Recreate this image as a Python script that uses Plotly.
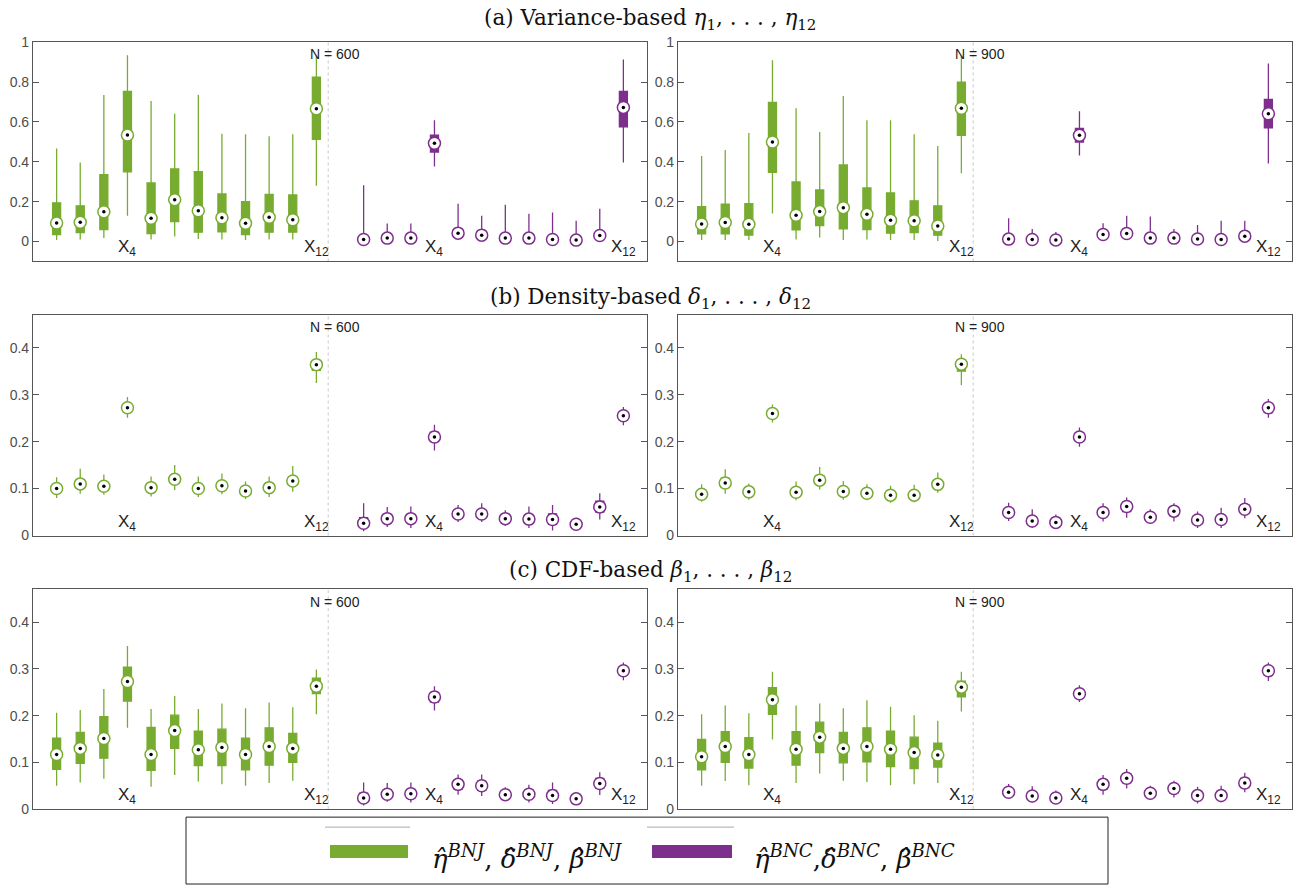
import plotly.graph_objects as go

W, H = 1305, 893
GREEN = '#77AC30'
PURPLE = '#7E2F8E'
AXC = '#555555'

# ---------------- data ----------------
# (a) variance-based, N = 600
a600_bnj_lo = [0.007, 0.010, 0.017, 0.129, 0.010, 0.025, 0.013, 0.010, 0.007, 0.010, 0.010, 0.280]
a600_bnj_q1 = [0.035, 0.045, 0.060, 0.349, 0.040, 0.100, 0.047, 0.048, 0.035, 0.047, 0.047, 0.513]
a600_bnj_md = [0.093, 0.097, 0.149, 0.534, 0.117, 0.210, 0.154, 0.119, 0.092, 0.122, 0.109, 0.666]
a600_bnj_q3 = [0.194, 0.179, 0.336, 0.753, 0.294, 0.364, 0.351, 0.239, 0.200, 0.237, 0.234, 0.825]
a600_bnj_hi = [0.467, 0.396, 0.735, 0.935, 0.705, 0.641, 0.736, 0.541, 0.538, 0.528, 0.538, 0.930]

a600_bnc_lo = [0.001, 0.002, 0.002, 0.377, 0.010, 0.008, 0.002, 0.002, 0.001, 0.001, 0.005, 0.396]
a600_bnc_q1 = [0.004, 0.008, 0.008, 0.449, 0.030, 0.022, 0.008, 0.008, 0.004, 0.003, 0.018, 0.576]
a600_bnc_md = [0.010, 0.017, 0.017, 0.493, 0.042, 0.032, 0.017, 0.017, 0.010, 0.007, 0.030, 0.673]
a600_bnc_q3 = [0.025, 0.030, 0.030, 0.534, 0.060, 0.050, 0.035, 0.033, 0.025, 0.020, 0.048, 0.753]
a600_bnc_hi = [0.282, 0.090, 0.090, 0.608, 0.189, 0.129, 0.185, 0.139, 0.145, 0.104, 0.164, 0.913]

# (a) variance-based, N = 900
a900_bnj_lo = [0.008, 0.008, 0.008, 0.140, 0.010, 0.020, 0.008, 0.010, 0.008, 0.008, 0.003, 0.342]
a900_bnj_q1 = [0.038, 0.038, 0.032, 0.347, 0.058, 0.080, 0.063, 0.060, 0.042, 0.045, 0.032, 0.533]
a900_bnj_md = [0.088, 0.095, 0.087, 0.499, 0.132, 0.150, 0.170, 0.137, 0.107, 0.104, 0.078, 0.669]
a900_bnj_q3 = [0.175, 0.187, 0.190, 0.698, 0.299, 0.259, 0.384, 0.269, 0.244, 0.204, 0.179, 0.800]
a900_bnj_hi = [0.429, 0.459, 0.544, 0.910, 0.669, 0.549, 0.730, 0.609, 0.609, 0.538, 0.479, 0.930]

a900_bnc_lo = [0.001, 0.001, 0.001, 0.432, 0.012, 0.015, 0.002, 0.003, 0.002, 0.001, 0.008, 0.391]
a900_bnc_q1 = [0.004, 0.004, 0.003, 0.499, 0.025, 0.028, 0.008, 0.009, 0.006, 0.004, 0.017, 0.571]
a900_bnc_md = [0.012, 0.010, 0.008, 0.533, 0.035, 0.040, 0.017, 0.017, 0.013, 0.010, 0.027, 0.641]
a900_bnc_q3 = [0.030, 0.025, 0.020, 0.568, 0.055, 0.062, 0.035, 0.030, 0.030, 0.028, 0.045, 0.713]
a900_bnc_hi = [0.117, 0.063, 0.048, 0.654, 0.092, 0.129, 0.125, 0.063, 0.083, 0.104, 0.104, 0.893]

# (b) density-based, N = 600
b600_bnj_lo = [0.080, 0.089, 0.087, 0.251, 0.083, 0.097, 0.082, 0.088, 0.078, 0.082, 0.093, 0.325]
b600_bnj_q1 = [0.093, 0.101, 0.098, 0.263, 0.095, 0.111, 0.093, 0.099, 0.088, 0.094, 0.107, 0.352]
b600_bnj_md = [0.100, 0.110, 0.105, 0.272, 0.102, 0.120, 0.100, 0.106, 0.095, 0.102, 0.116, 0.364]
b600_bnj_q3 = [0.107, 0.118, 0.112, 0.280, 0.109, 0.129, 0.107, 0.113, 0.101, 0.109, 0.125, 0.372]
b600_bnj_hi = [0.124, 0.142, 0.130, 0.295, 0.126, 0.150, 0.126, 0.132, 0.115, 0.126, 0.148, 0.391]

b600_bnc_lo = [0.009, 0.018, 0.016, 0.181, 0.029, 0.029, 0.021, 0.016, 0.011, 0.014, 0.034, 0.235]
b600_bnc_q1 = [0.019, 0.029, 0.028, 0.200, 0.039, 0.039, 0.030, 0.027, 0.024, 0.019, 0.050, 0.247]
b600_bnc_md = [0.026, 0.036, 0.036, 0.210, 0.046, 0.046, 0.036, 0.035, 0.034, 0.024, 0.061, 0.255]
b600_bnc_q3 = [0.038, 0.044, 0.044, 0.220, 0.053, 0.054, 0.042, 0.044, 0.046, 0.030, 0.073, 0.263]
b600_bnc_hi = [0.069, 0.061, 0.062, 0.236, 0.065, 0.069, 0.054, 0.062, 0.065, 0.038, 0.090, 0.274]

# (b) density-based, N = 900
b900_bnj_lo = [0.072, 0.089, 0.076, 0.241, 0.075, 0.098, 0.076, 0.075, 0.070, 0.071, 0.091, 0.320]
b900_bnj_q1 = [0.082, 0.102, 0.086, 0.252, 0.085, 0.110, 0.087, 0.083, 0.079, 0.079, 0.101, 0.350]
b900_bnj_md = [0.088, 0.112, 0.093, 0.260, 0.092, 0.118, 0.094, 0.090, 0.086, 0.086, 0.109, 0.365]
b900_bnj_q3 = [0.095, 0.122, 0.100, 0.268, 0.100, 0.127, 0.101, 0.097, 0.094, 0.094, 0.117, 0.374]
b900_bnj_hi = [0.109, 0.141, 0.111, 0.279, 0.115, 0.146, 0.116, 0.109, 0.106, 0.108, 0.134, 0.386]

b900_bnc_lo = [0.031, 0.016, 0.014, 0.189, 0.030, 0.038, 0.026, 0.030, 0.016, 0.016, 0.037, 0.251]
b900_bnc_q1 = [0.041, 0.024, 0.021, 0.201, 0.041, 0.051, 0.033, 0.042, 0.025, 0.026, 0.047, 0.262]
b900_bnc_md = [0.049, 0.031, 0.028, 0.210, 0.049, 0.062, 0.039, 0.052, 0.033, 0.034, 0.056, 0.272]
b900_bnc_q3 = [0.057, 0.040, 0.034, 0.219, 0.058, 0.071, 0.046, 0.060, 0.041, 0.043, 0.066, 0.281]
b900_bnc_hi = [0.070, 0.056, 0.045, 0.230, 0.069, 0.081, 0.056, 0.069, 0.051, 0.059, 0.080, 0.291]

# (c) CDF-based, N = 600
c600_bnj_lo = [0.050, 0.057, 0.065, 0.174, 0.048, 0.073, 0.059, 0.053, 0.050, 0.056, 0.061, 0.203]
c600_bnj_q1 = [0.085, 0.098, 0.109, 0.231, 0.083, 0.130, 0.093, 0.093, 0.084, 0.094, 0.100, 0.247]
c600_bnj_md = [0.117, 0.130, 0.151, 0.273, 0.117, 0.168, 0.127, 0.132, 0.117, 0.134, 0.130, 0.263]
c600_bnj_q3 = [0.152, 0.164, 0.198, 0.304, 0.175, 0.201, 0.167, 0.171, 0.152, 0.174, 0.162, 0.280]
c600_bnj_hi = [0.206, 0.212, 0.257, 0.349, 0.214, 0.242, 0.214, 0.226, 0.216, 0.228, 0.218, 0.299]

c600_bnc_lo = [0.008, 0.016, 0.014, 0.211, 0.031, 0.028, 0.018, 0.014, 0.011, 0.011, 0.030, 0.276]
c600_bnc_q1 = [0.016, 0.024, 0.024, 0.229, 0.043, 0.040, 0.025, 0.024, 0.020, 0.016, 0.045, 0.288]
c600_bnc_md = [0.024, 0.032, 0.033, 0.240, 0.053, 0.050, 0.031, 0.032, 0.029, 0.022, 0.055, 0.296]
c600_bnc_q3 = [0.034, 0.041, 0.042, 0.250, 0.062, 0.060, 0.038, 0.041, 0.040, 0.028, 0.066, 0.304]
c600_bnc_hi = [0.057, 0.056, 0.057, 0.263, 0.074, 0.074, 0.047, 0.052, 0.057, 0.036, 0.079, 0.314]

# (c) CDF-based, N = 900
c900_bnj_lo = [0.050, 0.060, 0.051, 0.149, 0.056, 0.076, 0.061, 0.058, 0.051, 0.053, 0.056, 0.209]
c900_bnj_q1 = [0.084, 0.100, 0.088, 0.203, 0.094, 0.121, 0.099, 0.101, 0.091, 0.087, 0.090, 0.240]
c900_bnj_md = [0.112, 0.134, 0.117, 0.234, 0.128, 0.154, 0.130, 0.134, 0.128, 0.121, 0.116, 0.261]
c900_bnj_q3 = [0.149, 0.166, 0.153, 0.260, 0.166, 0.186, 0.164, 0.174, 0.167, 0.154, 0.141, 0.274]
c900_bnj_hi = [0.203, 0.222, 0.205, 0.294, 0.222, 0.226, 0.216, 0.233, 0.219, 0.201, 0.189, 0.294]

c900_bnc_lo = [0.024, 0.014, 0.012, 0.229, 0.031, 0.044, 0.021, 0.025, 0.012, 0.015, 0.036, 0.274]
c900_bnc_q1 = [0.030, 0.021, 0.018, 0.238, 0.043, 0.056, 0.028, 0.035, 0.021, 0.022, 0.046, 0.286]
c900_bnc_md = [0.036, 0.028, 0.024, 0.247, 0.053, 0.066, 0.034, 0.044, 0.029, 0.029, 0.056, 0.296]
c900_bnc_q3 = [0.043, 0.036, 0.030, 0.256, 0.063, 0.076, 0.041, 0.052, 0.038, 0.038, 0.066, 0.305]
c900_bnc_hi = [0.054, 0.049, 0.040, 0.265, 0.073, 0.086, 0.050, 0.061, 0.048, 0.050, 0.078, 0.314]

variables = list(range(1, 13))          # X1..X12 in each group
labelled_vars = [4, 12]                 # variables labelled under the boxes
sample_sizes = ['N = 600', 'N = 900']
row_titles = [
    '(a) Variance-based <i>η</i><sub>1</sub>, . . . , <i>η</i><sub>12</sub>',
    '(b) Density-based <i>δ</i><sub>1</sub>, . . . , <i>δ</i><sub>12</sub>',
    '(c) CDF-based <i>β</i><sub>1</sub>, . . . , <i>β</i><sub>12</sub>',
]
legend_labels = [
    '<i>η̂</i><sup><i>BNJ</i></sup>, <i>δ̂</i><sup><i>BNJ</i></sup>, <i>β̂</i><sup><i>BNJ</i></sup>',
    '<i>η̂</i><sup><i>BNC</i></sup>,<i>δ̂</i><sup><i>BNC</i></sup>, <i>β̂</i><sup><i>BNC</i></sup>',
]

panels = [
    [(a600_bnj_lo, a600_bnj_q1, a600_bnj_md, a600_bnj_q3, a600_bnj_hi),
     (a600_bnc_lo, a600_bnc_q1, a600_bnc_md, a600_bnc_q3, a600_bnc_hi)],
    [(a900_bnj_lo, a900_bnj_q1, a900_bnj_md, a900_bnj_q3, a900_bnj_hi),
     (a900_bnc_lo, a900_bnc_q1, a900_bnc_md, a900_bnc_q3, a900_bnc_hi)],
    [(b600_bnj_lo, b600_bnj_q1, b600_bnj_md, b600_bnj_q3, b600_bnj_hi),
     (b600_bnc_lo, b600_bnc_q1, b600_bnc_md, b600_bnc_q3, b600_bnc_hi)],
    [(b900_bnj_lo, b900_bnj_q1, b900_bnj_md, b900_bnj_q3, b900_bnj_hi),
     (b900_bnc_lo, b900_bnc_q1, b900_bnc_md, b900_bnc_q3, b900_bnc_hi)],
    [(c600_bnj_lo, c600_bnj_q1, c600_bnj_md, c600_bnj_q3, c600_bnj_hi),
     (c600_bnc_lo, c600_bnc_q1, c600_bnc_md, c600_bnc_q3, c600_bnc_hi)],
    [(c900_bnj_lo, c900_bnj_q1, c900_bnj_md, c900_bnj_q3, c900_bnj_hi),
     (c900_bnc_lo, c900_bnc_q1, c900_bnc_md, c900_bnc_q3, c900_bnc_hi)],
]

# ---------------- layout helpers (target picture pixels -> paper fractions) ----------------
# the photographed page comes out slightly squeezed vertically; pre-stretch about the middle
SQ, SHIFT = 0.9835, 6.7

def fx(p):
    return p / W

def fy(p):
    d = (p - SHIFT) / SQ
    d = max(0.0, min(H - 1.0, d))
    return 1 - d / H

x_dom_px = [(33, 647), (678, 1292)]
y_dom_px = [(41, 260.5), (314, 535), (589, 809)]
y_ranges = [[-0.1, 1.0], [0, 0.47], [0, 0.47]]
y_tickvals = [[0, 0.2, 0.4, 0.6, 0.8, 1], [0, 0.1, 0.2, 0.3, 0.4], [0, 0.1, 0.2, 0.3, 0.4]]
y_ticktext = [['0', '0.2', '0.4', '0.6', '0.8', '1'], ['0', '0.1', '0.2', '0.3', '0.4'],
              ['0', '0.1', '0.2', '0.3', '0.4']]

fig = go.Figure()
layout = dict(width=W, height=H, margin=dict(l=0, r=0, t=0, b=0),
              paper_bgcolor='white', plot_bgcolor='white', showlegend=False,
              boxmode='overlay')
shapes = []
annotations = []

gap = 1  # empty slot between the two groups
pos_groups = [variables, [v + len(variables) + gap for v in variables]]
divider = len(variables) + gap / 2.0

for k in range(6):
    r, c = divmod(k, 2)
    xa = 'x' if k == 0 else f'x{k+1}'
    ya = 'y' if k == 0 else f'y{k+1}'
    xkey = 'xaxis' if k == 0 else f'xaxis{k+1}'
    ykey = 'yaxis' if k == 0 else f'yaxis{k+1}'
    layout[xkey] = dict(domain=[fx(x_dom_px[c][0]), fx(x_dom_px[c][1])],
                        range=[0, 2 * len(variables) + gap + 1], anchor=ya,
                        showticklabels=False, ticks='', showgrid=False, zeroline=False,
                        showline=True, mirror=True, linecolor=AXC, linewidth=1.2)
    layout[ykey] = dict(domain=[fy(y_dom_px[r][1]), fy(y_dom_px[r][0])],
                        range=y_ranges[r], anchor=xa,
                        tickvals=y_tickvals[r], ticktext=y_ticktext[r],
                        ticks='inside', ticklen=6, tickwidth=1, tickcolor=AXC,
                        showgrid=False, zeroline=False,
                        showline=True, mirror='ticks', linecolor=AXC, linewidth=1.2,
                        tickfont=dict(family='Liberation Sans, Arial', size=14, color='#4d4d4d'))
    for g, (color, pos) in enumerate(zip([GREEN, PURPLE], pos_groups)):
        lo, q1, md, q3, hi = panels[k][g]
        fig.add_trace(go.Box(x=pos, q1=q1, median=md, q3=q3, lowerfence=lo, upperfence=hi,
                             fillcolor=color, line=dict(color=color, width=1.3),
                             width=0.34, whiskerwidth=0, boxpoints=False,
                             xaxis=xa, yaxis=ya, hoverinfo='skip'))
    for g, (color, pos) in enumerate(zip([GREEN, PURPLE], pos_groups)):
        md = panels[k][g][2]
        fig.add_trace(go.Scatter(x=pos, y=md, mode='markers', xaxis=xa, yaxis=ya,
                                 marker=dict(symbol='circle', size=12, color='white',
                                             line=dict(color=color, width=1.5)),
                                 hoverinfo='skip'))
        fig.add_trace(go.Scatter(x=pos, y=md, mode='markers', xaxis=xa, yaxis=ya,
                                 marker=dict(symbol='circle', size=3.5, color='black'),
                                 hoverinfo='skip'))
    # divider between groups
    shapes.append(dict(type='line', xref=xa, yref=f'{ya} domain', x0=divider, x1=divider,
                       y0=0, y1=1, line=dict(color='#c8c8c8', width=1, dash='dot'), layer='below'))
    # X labels
    for pos in pos_groups:
        for v in labelled_vars:
            annotations.append(dict(xref=xa, yref=f'{ya} domain', x=pos[v - 1], y=0.0,
                                    xanchor='center', yanchor='bottom', showarrow=False,
                                    text=f'X<sub>{v}</sub>',
                                    font=dict(family='Liberation Sans, Arial', size=17, color='#222')))
    # sample size label
    annotations.append(dict(xref=xa, yref=f'{ya} domain', x=divider - 0.85, y=0.945,
                            xanchor='left', yanchor='middle', showarrow=False,
                            text=sample_sizes[c],
                            font=dict(family='Liberation Sans, Arial', size=14, color='#222')))

# row titles
title_y_px = [18, 298, 571]
for r in range(3):
    annotations.append(dict(xref='paper', yref='paper', x=fx(650), y=fy(title_y_px[r]),
                            xanchor='center', yanchor='middle', showarrow=False,
                            text=row_titles[r],
                            font=dict(family='DejaVu Serif, serif', size=21.5, color='#111')))

# legend box
shapes.append(dict(type='rect', xref='paper', yref='paper', x0=fx(186), x1=fx(1108),
                   y0=fy(890), y1=fy(817), line=dict(color='#222', width=1), fillcolor='white',
                   layer='above'))
leg_x = [(330, 408, 430), (652, 732, 752)]
for (x0, x1, tx), color, lab in zip(leg_x, [GREEN, PURPLE], legend_labels):
    shapes.append(dict(type='line', xref='paper', yref='paper', x0=fx(x0 - 5), x1=fx(x1 + 2),
                       y0=fy(827), y1=fy(827), line=dict(color='#aaaaaa', width=1), layer='above'))
    shapes.append(dict(type='rect', xref='paper', yref='paper', x0=fx(x0), x1=fx(x1),
                       y0=fy(858), y1=fy(845), line=dict(width=0), fillcolor=color, layer='above'))
    annotations.append(dict(xref='paper', yref='paper', x=fx(tx), y=fy(857),
                            xanchor='left', yanchor='middle', showarrow=False, text=lab,
                            font=dict(family='DejaVu Serif, serif', size=26, color='#111')))

layout['shapes'] = shapes
layout['annotations'] = annotations
fig.update_layout(**layout)

fig.write_html("out.html", config={'displayModeBar': False},
               post_script="document.body.style.margin='0';")
